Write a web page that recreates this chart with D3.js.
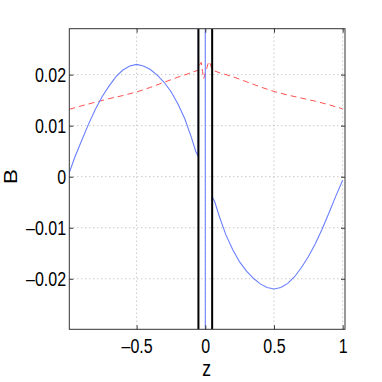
<!DOCTYPE html>
<html>
<head>
<meta charset="utf-8">
<script src="https://cdn.jsdelivr.net/npm/d3@7"></script>
<style>
  body { margin: 0; background: #fff; }
  svg { display: block; }
  text { font-family: "Liberation Sans", Arial, sans-serif; fill: #000; }
</style>
</head>
<body>
<svg id="chart" width="382" height="382"></svg>
<script>
// blue solid curve, z and B
var blueZ = [-0.99, -0.95, -0.9, -0.85, -0.8, -0.75, -0.7, -0.65, -0.6, -0.55, -0.5,
             -0.45, -0.4, -0.35, -0.3, -0.25, -0.2, -0.15, -0.1, -0.07, -0.052,
             -0.05, -0.0005, 0.0005, 0.05,
             0.052, 0.07, 0.1, 0.15, 0.2, 0.25, 0.3, 0.35, 0.4, 0.45, 0.5,
             0.55, 0.6, 0.65, 0.7, 0.75, 0.8, 0.85, 0.9, 0.95, 1.0];
var blueB = [0.0008, 0.0038, 0.0071, 0.0103, 0.0132, 0.0157, 0.0178, 0.0196, 0.0209, 0.0217, 0.0220,
             0.0217, 0.0210, 0.0199, 0.0185, 0.0167, 0.0143, 0.0114, 0.0076, 0.0050, 0.0040,
             0.06, 0.06, -0.06, -0.06,
             -0.0040, -0.0050, -0.0076, -0.0114, -0.0143, -0.0167, -0.0185, -0.0199, -0.0210, -0.0217, -0.0220,
             -0.0217, -0.0209, -0.0196, -0.0178, -0.0157, -0.0132, -0.0103, -0.0071, -0.0038, -0.0007];

// red dashed curve
var redZ = [-0.99, -0.9, -0.8, -0.7, -0.6, -0.5, -0.4, -0.3, -0.2, -0.1, -0.05,
            -0.04, -0.03, -0.02, -0.012, -0.004, 0.01, 0.025, 0.035, 0.05,
            0.1, 0.2, 0.3, 0.4, 0.5, 0.6, 0.7, 0.8, 0.9, 1.0];
var redB = [0.0132, 0.0139, 0.0146, 0.0153, 0.0159, 0.0166, 0.0175, 0.0185, 0.0195, 0.0204, 0.0209,
            0.0220, 0.0224, 0.0206, 0.0192, 0.0199, 0.0212, 0.0226, 0.0222, 0.0209,
            0.0204, 0.0196, 0.0186, 0.0176, 0.0167, 0.0160, 0.0154, 0.0148, 0.0141, 0.0133];

// black walls
var walls = [-0.05, 0.05];

var xTicks = [-0.5, 0, 0.5, 1];
var yTicks = [-0.02, -0.01, 0, 0.01, 0.02];

var margin = { left: 69.3, right: 37, top: 28.7, bottom: 52.7 };
var width = 382 - margin.left - margin.right,
    height = 382 - margin.top - margin.bottom;

var svg = d3.select("#chart");
var g = svg.append("g")
    .attr("transform", "translate(" + margin.left + "," + margin.top + ")");

var x = d3.scaleLinear().domain([-0.99, 1.017]).range([0, width]);
var y = d3.scaleLinear().domain([-0.0299, 0.0290]).range([height, 0]);

svg.append("defs").append("clipPath").attr("id", "clip")
  .append("rect").attr("width", width).attr("height", height);

// grid
g.append("g").selectAll("line.gx").data(xTicks).enter().append("line")
    .attr("x1", function(d){ return x(d); }).attr("x2", function(d){ return x(d); })
    .attr("y1", 0).attr("y2", height)
    .attr("stroke", "#b0b0b0").attr("stroke-dasharray", "1,3");
g.append("g").selectAll("line.gy").data(yTicks).enter().append("line")
    .attr("y1", function(d){ return y(d); }).attr("y2", function(d){ return y(d); })
    .attr("x1", 0).attr("x2", width)
    .attr("stroke", "#b0b0b0").attr("stroke-dasharray", "1,3");

var plot = g.append("g").attr("clip-path", "url(#clip)");

var line = d3.line()
    .x(function(d){ return x(d[0]); })
    .y(function(d){ return y(d[1]); });

plot.append("path")
    .datum(d3.zip(redZ, redB))
    .attr("d", line)
    .attr("fill", "none")
    .attr("stroke", "#ff5050")
    .attr("stroke-width", 1)
    .attr("stroke-dasharray", "6,4");

plot.append("path")
    .datum(d3.zip(blueZ, blueB))
    .attr("d", line)
    .attr("fill", "none")
    .attr("stroke", "#6a80ff")
    .attr("stroke-width", 1.1);

plot.selectAll("line.wall").data(walls).enter().append("line")
    .attr("x1", function(d){ return x(d); }).attr("x2", function(d){ return x(d); })
    .attr("y1", 0).attr("y2", height)
    .attr("stroke", "#000").attr("stroke-width", 2);

// axes, ticks inward
var fmt = function(d){ return d < 0 ? "\u2013" + Math.abs(d) : String(d); };

var xAxis = g.append("g").attr("transform", "translate(0," + height + ")")
    .call(d3.axisBottom(x).tickValues(xTicks).tickSize(-4).tickSizeOuter(0).tickPadding(10).tickFormat(fmt));
var xAxisTop = g.append("g")
    .call(d3.axisTop(x).tickValues(xTicks).tickSize(-4).tickSizeOuter(0).tickFormat(""));
var yAxis = g.append("g")
    .call(d3.axisLeft(y).tickValues(yTicks).tickSize(-4).tickSizeOuter(0).tickPadding(4).tickFormat(fmt));
var yAxisRight = g.append("g").attr("transform", "translate(" + width + ",0)")
    .call(d3.axisRight(y).tickValues(yTicks).tickSize(-4).tickSizeOuter(0).tickFormat(""));

[xAxis, xAxisTop, yAxis, yAxisRight].forEach(function(a){
  a.select(".domain").remove();
  a.selectAll(".tick line").attr("stroke", "#333");
  a.selectAll("text")
      .attr("font-size", "20px")
      .attr("font-family", "Liberation Sans, Arial, sans-serif")
      .attr("fill", "#000")
      .attr("transform", "scale(0.8,1)");
});

// box
g.append("rect")
    .attr("width", width).attr("height", height)
    .attr("fill", "none").attr("stroke", "#333").attr("stroke-width", 1);

// labels
g.append("text")
    .attr("transform", "translate(" + (x(0) + 1.3) + "," + (height + 47) + ") scale(0.8,1)")
    .attr("text-anchor", "middle")
    .attr("font-size", "22px")
    .text("z");

g.append("text")
    .attr("transform", "translate(" + (16.7 - margin.left) + "," + y(0) + ") scale(0.8,1) rotate(-90)")
    .attr("text-anchor", "middle")
    .attr("font-size", "23px")
    .text("B");
</script>
</body>
</html>
